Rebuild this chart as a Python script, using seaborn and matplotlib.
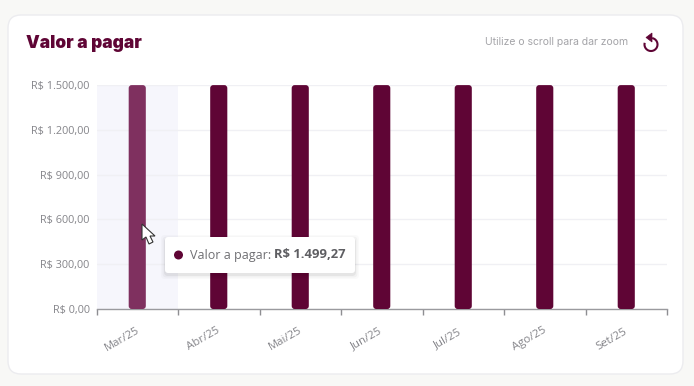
import matplotlib
matplotlib.use('Agg')
import pandas as pd
import seaborn as sns
import matplotlib.pyplot as plt
from matplotlib.patches import FancyBboxPatch, Polygon, Circle, Arc

months = ['Mar/25', 'Abr/25', 'Mai/25', 'Jun/25', 'Jul/25', 'Ago/25', 'Set/25']
values = [1499.27, 1499.27, 1499.27, 1499.27, 1499.27, 1499.27, 1499.27]
y_ticks = [0, 300, 600, 900, 1200, 1500]
y_labels = ['R$ 0,00', 'R$ 300,00', 'R$ 600,00', 'R$ 900,00', 'R$ 1.200,00', 'R$ 1.500,00']

WINE = '#5F0535'
HOVER = '#7F305F'
GREY = '#85858A'

sns.set_theme(style='white')
plt.rcParams['font.family'] = ['Open Sans', 'DejaVu Sans']

W, H = 694, 386
fig = plt.figure(figsize=(W / 100, H / 100), dpi=100, facecolor='#F8F8F6')


def pixel_axes(z):
    a = fig.add_axes([0, 0, 1, 1], zorder=z)
    a.set_xlim(0, W)
    a.set_ylim(H, 0)
    a.axis('off')
    return a


# card behind the chart
back = pixel_axes(0)
back.add_patch(FancyBboxPatch((8, 15), 675, 359, boxstyle='round,pad=0,rounding_size=13',
                              fc='white', ec='#ECECEF', lw=1))

# chart
ax = fig.add_axes([96.5 / W, 1 - 309 / H, 570.5 / W, 224 / H], zorder=1)
ax.patch.set_alpha(0)
df = pd.DataFrame({'month': months, 'value': values})
sns.barplot(data=df, x='month', y='value', color=WINE, width=0.21, saturation=1, ax=ax, zorder=3)
ax.set_xlim(-0.5, len(months) - 0.5)
ax.set_ylim(0, 1500)
ax.set_xlabel('')
ax.set_ylabel('')

# hover band on the first month
ax.axvspan(-0.5, 0.5, color='#F6F6FC', lw=0, zorder=0)

ax.set_yticks(y_ticks)
ax.set_yticklabels(y_labels, color=GREY, fontsize=7.8)
ax.tick_params(axis='y', length=0, pad=5)
ax.grid(axis='y', color='#F0F0F4', lw=1, zorder=1)
ax.set_axisbelow(True)

ax.set_xticks([i - 0.5 for i in range(len(months) + 1)])
ax.set_xticklabels([])
ax.tick_params(axis='x', length=4, width=1, color='#8E8E92', bottom=True)
for i, m in enumerate(months):
    ax.annotate(m, (i, 0), xycoords=('data', 'axes fraction'), xytext=(-15, -30),
                textcoords='offset pixels', rotation=30, ha='center', va='center',
                color=GREY, fontsize=8.2)

sns.despine(ax=ax, left=True)
ax.spines['bottom'].set_color('#9A9A9E')
ax.spines['bottom'].set_linewidth(1)

# rounded bars taken from the seaborn rectangles
rx = 3 / (570.5 / len(months))
ry = 3 / (224 / 1500)
for i, bar in enumerate(list(ax.patches)):
    x, w, h = bar.get_x(), bar.get_width(), bar.get_height()
    if w > 0.5:
        continue
    rect = FancyBboxPatch((x, 0), w, h, boxstyle='round,pad=0,rounding_size=%f' % rx,
                          mutation_aspect=ry / rx, fc=HOVER if i == 0 else WINE, ec='none', zorder=3)
    bar.set_visible(False)
    ax.add_patch(rect)

# header, tooltip and cursor on top
top = pixel_axes(2)
top.text(26, 43, 'Valor a pagar', color=WINE, fontsize=12.5, fontweight='black', family=['Inter', 'DejaVu Sans'],
         va='center', ha='left')
top.text(628, 42, 'Utilize o scroll para dar zoom', color='#A4A4A8', fontsize=7.5, va='center', ha='right',
         family=['Inter', 'DejaVu Sans'])
top.add_patch(Arc((651, 44.5), 13, 13, theta1=-80, theta2=195, color=WINE, lw=1.5))
top.add_patch(Polygon([(652, 33), (652, 42), (646, 37.5)], fc=WINE, ec=WINE, lw=0.5))

for pad, alpha in [(4, 0.02), (2.5, 0.03), (1, 0.05)]:
    top.add_patch(FancyBboxPatch((165 - pad, 237 - pad + 2), 190 + 2 * pad, 36 + 2 * pad,
                                 boxstyle='round,pad=0,rounding_size=4', fc='black', ec='none', alpha=alpha))
top.add_patch(FancyBboxPatch((165, 237), 190, 36, boxstyle='round,pad=0,rounding_size=3', fc='white', ec='none'))
top.add_patch(Circle((178.5, 255), 4.5, fc=WINE, ec='none'))
top.text(190, 255, 'Valor a pagar:', color='#6F6F73', fontsize=9, va='center', ha='left')
top.text(274, 255, 'R$ 1.499,27', color='#5E5E62', fontsize=9.4, fontweight='bold', va='center', ha='left')

cursor = [(142, 224), (142, 240), (146, 237), (149, 244), (153, 242), (150, 236), (155, 236)]
top.add_patch(Polygon(cursor, fc='white', ec='#333333', lw=0.8, joinstyle='miter'))

fig.savefig('out.png', dpi=100, facecolor=fig.get_facecolor())
